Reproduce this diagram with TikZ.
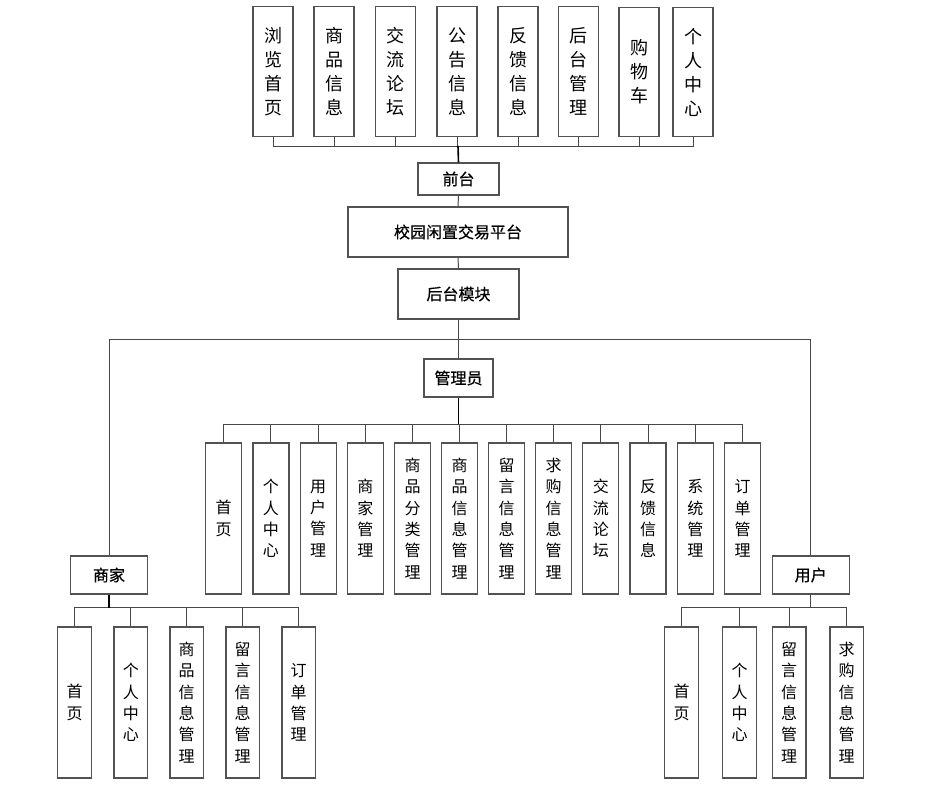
\documentclass[tikz,border=0pt]{standalone}
\usepackage{fontspec}
\newfontfamily\cjk{Noto Sans CJK SC}
\newfontfamily\cjkb{Noto Sans CJK SC}[FakeBold=0.6]
\begin{document}
\begin{tikzpicture}[x=1pt,y=-1pt,
  box/.style={draw=black!68,line width=1.2pt,fill=white,inner sep=0pt,align=center,text=black},
  topv/.style={box,minimum width=40pt,minimum height=129.5pt,font=\cjk\fontsize{18}{24}\selectfont},
  midv/.style={box,minimum width=36pt,minimum height=151pt,font=\cjk\fontsize{16}{21.3}\selectfont},
  lowv/.style={box,minimum width=33.5pt,minimum height=151pt,font=\cjk\fontsize{16}{21.3}\selectfont},
  lbl/.style={box,font=\cjkb\fontsize{16}{20}\selectfont},
  conn/.style={draw=black!72,line width=1pt},
  trunk/.style={draw=black,line width=1.6pt}]
\useasboundingbox (0,0) rectangle (946,792);
\fill[white] (0,0) rectangle (946,792);
% top row
\node[topv] (t1) at (273,71.5) {浏\\览\\首\\页};
\node[topv] (t2) at (334,71.5) {商\\品\\信\\息};
\node[topv] (t3) at (395.5,71.5) {交\\流\\论\\坛};
\node[topv] (t4) at (457,71.5) {公\\告\\信\\息};
\node[topv] (t5) at (518,71.5) {反\\馈\\信\\息};
\node[topv] (t6) at (578.5,71.5) {后\\台\\管\\理};
\node[topv] (t7) at (639,72) {购\\物\\车};
\node[topv] (t8) at (693,72) {个\\人\\中\\心};
\coordinate (tbus) at (458,146);
% main chain
\node[lbl,minimum width=81pt,minimum height=32pt] (qt) at (458.5,179) {前台};
\node[lbl,minimum width=220pt,minimum height=50pt] (pt) at (458,232) {校园闲置交易平台};
\node[lbl,minimum width=121pt,minimum height=50pt] (hm) at (458.5,294) {后台模块};
\node[lbl,minimum width=69pt,minimum height=38pt] (gly) at (458.5,378) {管理员};
\node[lbl,minimum width=77pt,minimum height=38pt] (sj) at (109,575) {商家};
\node[lbl,minimum width=77pt,minimum height=38pt] (yh) at (810.7,575) {用户};
\coordinate (mbus) at (458.5,339);
\coordinate (abus) at (458.5,424);
\coordinate (sbus) at (109,607.5);
\coordinate (ubus) at (810.7,607.5);
% admin children
\node[midv] (a1) at (223.7,518.5) {首\\页};
\node[midv] (a2) at (270.9,518.5) {个\\人\\中\\心};
\node[midv] (a3) at (318.1,518.5) {用\\户\\管\\理};
\node[midv] (a4) at (365.3,518.5) {商\\家\\管\\理};
\node[midv] (a5) at (412.5,518.5) {商\\品\\分\\类\\管\\理};
\node[midv] (a6) at (459.6,518.5) {商\\品\\信\\息\\管\\理};
\node[midv] (a7) at (506.5,518.5) {留\\言\\信\\息\\管\\理};
\node[midv] (a8) at (553.7,518.5) {求\\购\\信\\息\\管\\理};
\node[midv] (a9) at (600.8,518.5) {交\\流\\论\\坛};
\node[midv] (a10) at (648,518.5) {反\\馈\\信\\息};
\node[midv] (a11) at (695.3,518.5) {系\\统\\管\\理};
\node[midv] (a12) at (742.7,518.5) {订\\单\\管\\理};
% merchant children
\node[lowv] (s1) at (74.5,702.5) {首\\页};
\node[lowv] (s2) at (130.8,702.5) {个\\人\\中\\心};
\node[lowv] (s3) at (186.7,702.5) {商\\品\\信\\息\\管\\理};
\node[lowv] (s4) at (242.7,702.5) {留\\言\\信\\息\\管\\理};
\node[lowv] (s5) at (298.7,702.5) {订\\单\\管\\理};
% user children
\node[lowv] (u1) at (681.5,702.5) {首\\页};
\node[lowv] (u2) at (739.5,702.5) {个\\人\\中\\心};
\node[lowv] (u3) at (789.2,702.5) {留\\言\\信\\息\\管\\理};
\node[lowv] (u4) at (846.7,702.5) {求\\购\\信\\息\\管\\理};
% connectors
\foreach \n in {t1,t2,t3,t4,t5,t6,t7,t8} \draw[conn] (\n.south) |- (tbus);
\draw[trunk] (tbus) -- (qt.north);
\draw[conn] (qt.south) -- (pt.north);
\draw[conn] (pt.south) -- (hm.north);
\draw[conn] (hm.south) -- (gly.north);
\draw[conn] (sj.north) |- (mbus);
\draw[conn] (yh.north) |- (mbus);
\foreach \n in {a1,a2,a3,a4,a5,a6,a7,a8,a9,a10,a11,a12} \draw[conn] (\n.north) |- (abus);
\draw[trunk] (gly.south) -- (abus);
\foreach \n in {s1,s2,s3,s4,s5} \draw[conn] (\n.north) |- (sbus);
\draw[trunk] (sj.south) -- (sbus);
\foreach \n in {u1,u2,u3,u4} \draw[conn] (\n.north) |- (ubus);
\draw[conn] (yh.south) -- (ubus);
\end{tikzpicture}
\end{document}
